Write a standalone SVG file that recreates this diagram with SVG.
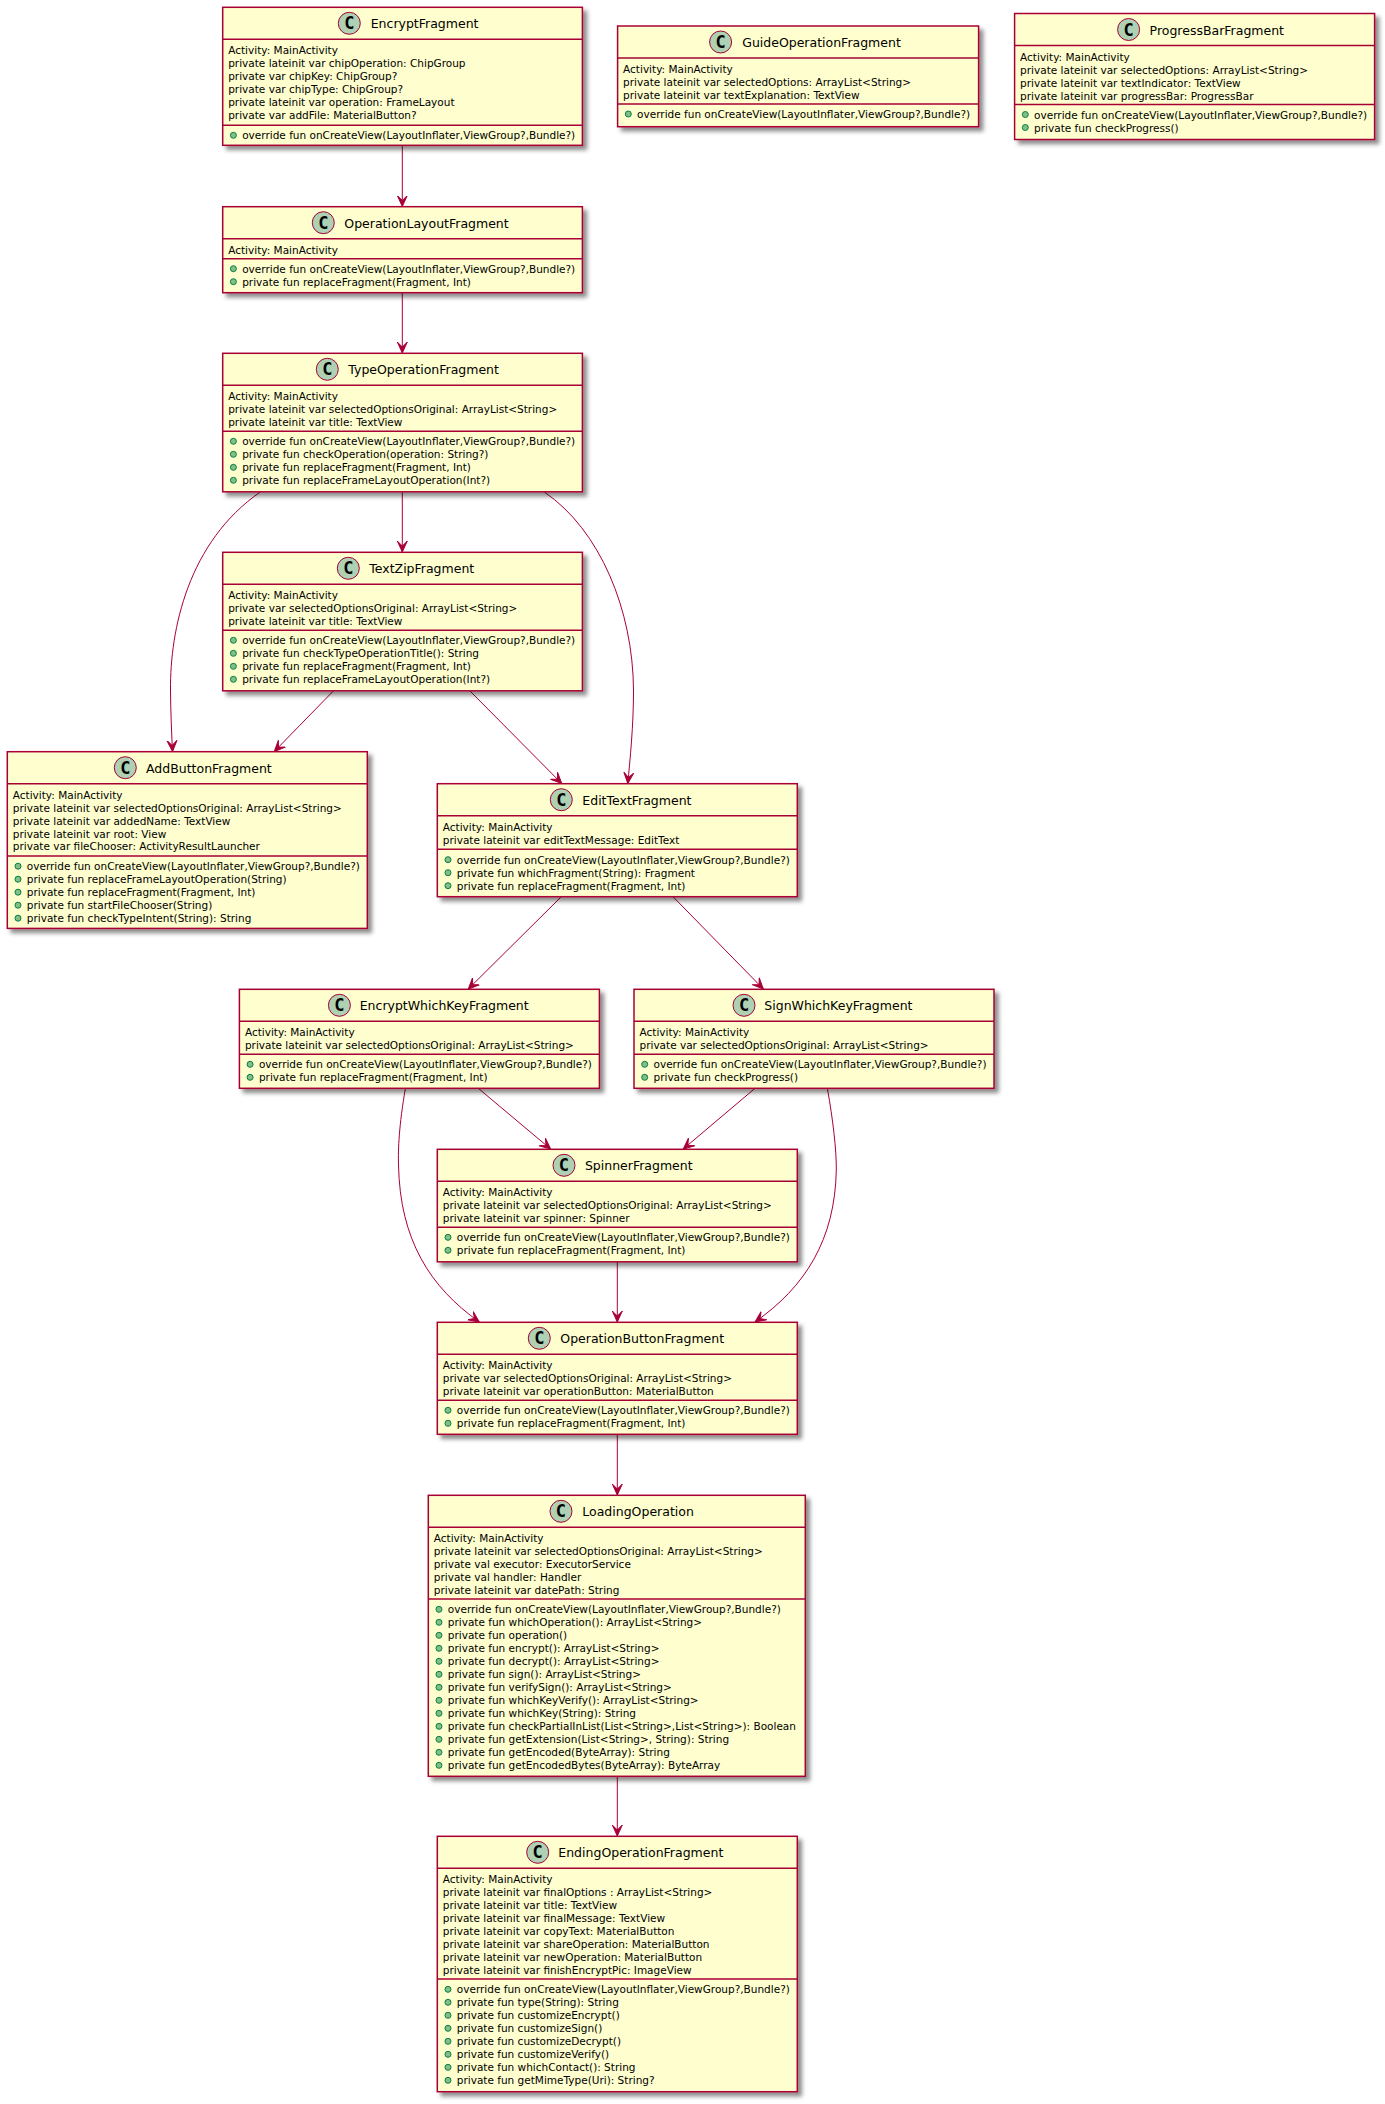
<svg xmlns="http://www.w3.org/2000/svg" width="1385" height="2104" viewBox="0 0 1385 2104">
<style>
text{font-family:"DejaVu Sans",sans-serif;fill:#000}
.m{font-size:10.5px}
.n{font-size:12.5px}
.c{font-family:"DejaVu Sans Mono",monospace;font-size:17px;font-weight:bold;text-anchor:middle}
.b{fill:#FEFECE;stroke:#A80036;stroke-width:1.5;filter:url(#s)}
.d{stroke:#A80036;stroke-width:1.5;fill:none}
.o{fill:#ADD1B2;stroke:#A80036;stroke-width:1}
.p{fill:#84BE84;stroke:#038048;stroke-width:1}
.l{fill:none;stroke:#A80036;stroke-width:1;marker-end:url(#a)}
</style>
<defs>
<filter id="s" x="-5%" y="-5%" width="112%" height="115%"><feDropShadow dx="4" dy="4" stdDeviation="2" flood-color="#000" flood-opacity="0.45"/></filter>
<marker id="a" markerUnits="userSpaceOnUse" markerWidth="12" markerHeight="12" viewBox="0 0 12 12" refX="11" refY="6" orient="auto"><path d="M11,6 L0,1 L5,6 L0,11 Z" fill="#A80036" stroke="#A80036" stroke-width="1"/></marker>
</defs>
<g id="connectors">
<path class="l" d="M402.3,146 L402.3,206.5"/>
<path class="l" d="M402.3,293 L402.3,353"/>
<path class="l" d="M402.3,492 L402.3,552"/>
<path class="l" d="M260.3,492 C188,542 170,630 170.5,690 C170.7,712 171.5,730 172.5,751.5"/>
<path class="l" d="M544.3,492 C600,530 633,610 633.5,690 C633.6,725 630,760 627.8,783.5"/>
<path class="l" d="M333.3,691 L274.3,751.5"/>
<path class="l" d="M470,691 L561.7,783.5"/>
<path class="l" d="M561,897 L468.3,989"/>
<path class="l" d="M673.3,897 L763.3,989"/>
<path class="l" d="M478.5,1088.5 L550.6,1149"/>
<path class="l" d="M754.8,1088.5 L683.3,1149"/>
<path class="l" d="M617.3,1262 L617.3,1322"/>
<path class="l" d="M405.4,1088.5 C399,1125 398,1150 398.5,1165 C400,1240 430,1287 479.3,1322"/>
<path class="l" d="M827.4,1088.5 C833,1120 836.5,1150 836.3,1170 C835,1240 805,1287 755,1322"/>
<path class="l" d="M617.3,1434.5 L617.3,1495"/>
<path class="l" d="M617.3,1776.5 L617.3,1836"/>
</g>
<g id="EncryptFragment" transform="translate(222.7,7.3)">
<rect class="b" width="359.7" height="138"/><path class="d" d="M0,32H359.7M0,118H359.7"/>
<circle class="o" cx="126.6" cy="16" r="11"/><text class="c" x="126.6" y="22">C</text><text class="n" x="148" y="21">EncryptFragment</text>
<text class="m" x="5.5" y="47">Activity: MainActivity</text>
<text class="m" x="5.5" y="60">private lateinit var chipOperation: ChipGroup</text>
<text class="m" x="5.5" y="73">private var chipKey: ChipGroup?</text>
<text class="m" x="5.5" y="86">private var chipType: ChipGroup?</text>
<text class="m" x="5.5" y="98.5">private lateinit var operation: FrameLayout</text>
<text class="m" x="5.5" y="111.5">private var addFile: MaterialButton?</text>
<circle class="p" cx="10.7" cy="128" r="3"/><text class="m" x="19.5" y="132">override fun onCreateView(LayoutInflater,ViewGroup?,Bundle?)</text>
</g>
<g id="GuideOperationFragment" transform="translate(617.6,26)">
<rect class="b" width="361" height="100.7"/><path class="d" d="M0,32H361M0,78H361"/>
<circle class="o" cx="103" cy="16" r="11"/><text class="c" x="103" y="22">C</text><text class="n" x="124.6" y="21">GuideOperationFragment</text>
<text class="m" x="5.5" y="47">Activity: MainActivity</text>
<text class="m" x="5.5" y="60">private lateinit var selectedOptions: ArrayList&lt;String&gt;</text>
<text class="m" x="5.5" y="73">private lateinit var textExplanation: TextView</text>
<circle class="p" cx="10.7" cy="88" r="3"/><text class="m" x="19.5" y="92">override fun onCreateView(LayoutInflater,ViewGroup?,Bundle?)</text>
</g>
<g id="ProgressBarFragment" transform="translate(1014.6,13.5)">
<rect class="b" width="360" height="126"/><path class="d" d="M0,32H360M0,91H360"/>
<circle class="o" cx="114" cy="16" r="11"/><text class="c" x="114" y="22">C</text><text class="n" x="135" y="21">ProgressBarFragment</text>
<text class="m" x="5.5" y="47">Activity: MainActivity</text>
<text class="m" x="5.5" y="60">private lateinit var selectedOptions: ArrayList&lt;String&gt;</text>
<text class="m" x="5.5" y="73">private lateinit var textIndicator: TextView</text>
<text class="m" x="5.5" y="86">private lateinit var progressBar: ProgressBar</text>
<circle class="p" cx="10.7" cy="101" r="3"/><text class="m" x="19.5" y="105">override fun onCreateView(LayoutInflater,ViewGroup?,Bundle?)</text>
<circle class="p" cx="10.7" cy="114" r="3"/><text class="m" x="19.5" y="118">private fun checkProgress()</text>
</g>
<g id="OperationLayoutFragment" transform="translate(222.7,206.7)">
<rect class="b" width="359.7" height="86"/><path class="d" d="M0,32H359.7M0,52H359.7"/>
<circle class="o" cx="100.6" cy="16" r="11"/><text class="c" x="100.6" y="22">C</text><text class="n" x="121.6" y="21">OperationLayoutFragment</text>
<text class="m" x="5.5" y="47">Activity: MainActivity</text>
<circle class="p" cx="10.7" cy="62" r="3"/><text class="m" x="19.5" y="66">override fun onCreateView(LayoutInflater,ViewGroup?,Bundle?)</text>
<circle class="p" cx="10.7" cy="75" r="3"/><text class="m" x="19.5" y="79">private fun replaceFragment(Fragment, Int)</text>
</g>
<g id="TypeOperationFragment" transform="translate(222.7,353.3)">
<rect class="b" width="359.7" height="138.5"/><path class="d" d="M0,32H359.7M0,78H359.7"/>
<circle class="o" cx="104.6" cy="16" r="11"/><text class="c" x="104.6" y="22">C</text><text class="n" x="125.6" y="21">TypeOperationFragment</text>
<text class="m" x="5.5" y="47">Activity: MainActivity</text>
<text class="m" x="5.5" y="60">private lateinit var selectedOptionsOriginal: ArrayList&lt;String&gt;</text>
<text class="m" x="5.5" y="73">private lateinit var title: TextView</text>
<circle class="p" cx="10.7" cy="88" r="3"/><text class="m" x="19.5" y="92">override fun onCreateView(LayoutInflater,ViewGroup?,Bundle?)</text>
<circle class="p" cx="10.7" cy="101" r="3"/><text class="m" x="19.5" y="104.5">private fun checkOperation(operation: String?)</text>
<circle class="p" cx="10.7" cy="114" r="3"/><text class="m" x="19.5" y="117.5">private fun replaceFragment(Fragment, Int)</text>
<circle class="p" cx="10.7" cy="127" r="3"/><text class="m" x="19.5" y="130.5">private fun replaceFrameLayoutOperation(Int?)</text>
</g>
<g id="TextZipFragment" transform="translate(222.7,552.3)">
<rect class="b" width="359.7" height="138.5"/><path class="d" d="M0,32H359.7M0,78H359.7"/>
<circle class="o" cx="125.6" cy="16" r="11"/><text class="c" x="125.6" y="22">C</text><text class="n" x="146.6" y="21">TextZipFragment</text>
<text class="m" x="5.5" y="47">Activity: MainActivity</text>
<text class="m" x="5.5" y="60">private var selectedOptionsOriginal: ArrayList&lt;String&gt;</text>
<text class="m" x="5.5" y="73">private lateinit var title: TextView</text>
<circle class="p" cx="10.7" cy="88" r="3"/><text class="m" x="19.5" y="92">override fun onCreateView(LayoutInflater,ViewGroup?,Bundle?)</text>
<circle class="p" cx="10.7" cy="101" r="3"/><text class="m" x="19.5" y="104.5">private fun checkTypeOperationTitle(): String</text>
<circle class="p" cx="10.7" cy="114" r="3"/><text class="m" x="19.5" y="117.5">private fun replaceFragment(Fragment, Int)</text>
<circle class="p" cx="10.7" cy="127" r="3"/><text class="m" x="19.5" y="130.5">private fun replaceFrameLayoutOperation(Int?)</text>
</g>
<g id="AddButtonFragment" transform="translate(7.3,751.7)">
<rect class="b" width="360" height="176.7"/><path class="d" d="M0,32H360M0,104.3H360"/>
<circle class="o" cx="118" cy="16" r="11"/><text class="c" x="118" y="22">C</text><text class="n" x="138.7" y="21">AddButtonFragment</text>
<text class="m" x="5.5" y="47">Activity: MainActivity</text>
<text class="m" x="5.5" y="60">private lateinit var selectedOptionsOriginal: ArrayList&lt;String&gt;</text>
<text class="m" x="5.5" y="73">private lateinit var addedName: TextView</text>
<text class="m" x="5.5" y="86">private lateinit var root: View</text>
<text class="m" x="5.5" y="98.5">private var fileChooser: ActivityResultLauncher</text>
<circle class="p" cx="10.7" cy="114.5" r="3"/><text class="m" x="19.5" y="118.5">override fun onCreateView(LayoutInflater,ViewGroup?,Bundle?)</text>
<circle class="p" cx="10.7" cy="127.5" r="3"/><text class="m" x="19.5" y="131.5">private fun replaceFrameLayoutOperation(String)</text>
<circle class="p" cx="10.7" cy="140.5" r="3"/><text class="m" x="19.5" y="144.5">private fun replaceFragment(Fragment, Int)</text>
<circle class="p" cx="10.7" cy="153.5" r="3"/><text class="m" x="19.5" y="157.5">private fun startFileChooser(String)</text>
<circle class="p" cx="10.7" cy="166.5" r="3"/><text class="m" x="19.5" y="170.5">private fun checkTypeIntent(String): String</text>
</g>
<g id="EditTextFragment" transform="translate(437.3,783.7)">
<rect class="b" width="360" height="113"/><path class="d" d="M0,32H360M0,65.6H360"/>
<circle class="o" cx="124" cy="16" r="11"/><text class="c" x="124" y="22">C</text><text class="n" x="145" y="21">EditTextFragment</text>
<text class="m" x="5.5" y="47">Activity: MainActivity</text>
<text class="m" x="5.5" y="60">private lateinit var editTextMessage: EditText</text>
<circle class="p" cx="10.7" cy="76" r="3"/><text class="m" x="19.5" y="80">override fun onCreateView(LayoutInflater,ViewGroup?,Bundle?)</text>
<circle class="p" cx="10.7" cy="89" r="3"/><text class="m" x="19.5" y="93">private fun whichFragment(String): Fragment</text>
<circle class="p" cx="10.7" cy="102" r="3"/><text class="m" x="19.5" y="106">private fun replaceFragment(Fragment, Int)</text>
</g>
<g id="EncryptWhichKeyFragment" transform="translate(239.4,989.3)">
<rect class="b" width="360" height="99"/><path class="d" d="M0,32H360M0,65H360"/>
<circle class="o" cx="100" cy="16" r="11"/><text class="c" x="100" y="22">C</text><text class="n" x="120.3" y="21">EncryptWhichKeyFragment</text>
<text class="m" x="5.5" y="47">Activity: MainActivity</text>
<text class="m" x="5.5" y="60">private lateinit var selectedOptionsOriginal: ArrayList&lt;String&gt;</text>
<circle class="p" cx="10.7" cy="75" r="3"/><text class="m" x="19.5" y="79">override fun onCreateView(LayoutInflater,ViewGroup?,Bundle?)</text>
<circle class="p" cx="10.7" cy="88" r="3"/><text class="m" x="19.5" y="92">private fun replaceFragment(Fragment, Int)</text>
</g>
<g id="SignWhichKeyFragment" transform="translate(634,989.3)">
<rect class="b" width="360" height="99"/><path class="d" d="M0,32H360M0,65H360"/>
<circle class="o" cx="110" cy="16" r="11"/><text class="c" x="110" y="22">C</text><text class="n" x="130.3" y="21">SignWhichKeyFragment</text>
<text class="m" x="5.5" y="47">Activity: MainActivity</text>
<text class="m" x="5.5" y="60">private var selectedOptionsOriginal: ArrayList&lt;String&gt;</text>
<circle class="p" cx="10.7" cy="75" r="3"/><text class="m" x="19.5" y="79">override fun onCreateView(LayoutInflater,ViewGroup?,Bundle?)</text>
<circle class="p" cx="10.7" cy="88" r="3"/><text class="m" x="19.5" y="92">private fun checkProgress()</text>
</g>
<g id="SpinnerFragment" transform="translate(437.3,1149.3)">
<rect class="b" width="360" height="112.5"/><path class="d" d="M0,32H360M0,78H360"/>
<circle class="o" cx="126.7" cy="16" r="11"/><text class="c" x="126.7" y="22">C</text><text class="n" x="147.6" y="21">SpinnerFragment</text>
<text class="m" x="5.5" y="47">Activity: MainActivity</text>
<text class="m" x="5.5" y="60">private lateinit var selectedOptionsOriginal: ArrayList&lt;String&gt;</text>
<text class="m" x="5.5" y="73">private lateinit var spinner: Spinner</text>
<circle class="p" cx="10.7" cy="88" r="3"/><text class="m" x="19.5" y="92">override fun onCreateView(LayoutInflater,ViewGroup?,Bundle?)</text>
<circle class="p" cx="10.7" cy="101" r="3"/><text class="m" x="19.5" y="104.5">private fun replaceFragment(Fragment, Int)</text>
</g>
<g id="OperationButtonFragment" transform="translate(437.3,1322.3)">
<rect class="b" width="360" height="112"/><path class="d" d="M0,32H360M0,78H360"/>
<circle class="o" cx="102" cy="16" r="11"/><text class="c" x="102" y="22">C</text><text class="n" x="123" y="21">OperationButtonFragment</text>
<text class="m" x="5.5" y="47">Activity: MainActivity</text>
<text class="m" x="5.5" y="60">private var selectedOptionsOriginal: ArrayList&lt;String&gt;</text>
<text class="m" x="5.5" y="73">private lateinit var operationButton: MaterialButton</text>
<circle class="p" cx="10.7" cy="88" r="3"/><text class="m" x="19.5" y="92">override fun onCreateView(LayoutInflater,ViewGroup?,Bundle?)</text>
<circle class="p" cx="10.7" cy="101" r="3"/><text class="m" x="19.5" y="104.5">private fun replaceFragment(Fragment, Int)</text>
</g>
<g id="LoadingOperation" transform="translate(428.3,1495.3)">
<rect class="b" width="377" height="281"/><path class="d" d="M0,32H377M0,103.7H377"/>
<circle class="o" cx="132.7" cy="16" r="11"/><text class="c" x="132.7" y="22">C</text><text class="n" x="154" y="21">LoadingOperation</text>
<text class="m" x="5.5" y="47">Activity: MainActivity</text>
<text class="m" x="5.5" y="60">private lateinit var selectedOptionsOriginal: ArrayList&lt;String&gt;</text>
<text class="m" x="5.5" y="73">private val executor: ExecutorService</text>
<text class="m" x="5.5" y="86">private val handler: Handler</text>
<text class="m" x="5.5" y="98.5">private lateinit var datePath: String</text>
<circle class="p" cx="10.7" cy="114" r="3"/><text class="m" x="19.5" y="118">override fun onCreateView(LayoutInflater,ViewGroup?,Bundle?)</text>
<circle class="p" cx="10.7" cy="127" r="3"/><text class="m" x="19.5" y="131">private fun whichOperation(): ArrayList&lt;String&gt;</text>
<circle class="p" cx="10.7" cy="140" r="3"/><text class="m" x="19.5" y="144">private fun operation()</text>
<circle class="p" cx="10.7" cy="153" r="3"/><text class="m" x="19.5" y="157">private fun encrypt(): ArrayList&lt;String&gt;</text>
<circle class="p" cx="10.7" cy="166" r="3"/><text class="m" x="19.5" y="170">private fun decrypt(): ArrayList&lt;String&gt;</text>
<circle class="p" cx="10.7" cy="179" r="3"/><text class="m" x="19.5" y="183">private fun sign(): ArrayList&lt;String&gt;</text>
<circle class="p" cx="10.7" cy="192" r="3"/><text class="m" x="19.5" y="196">private fun verifySign(): ArrayList&lt;String&gt;</text>
<circle class="p" cx="10.7" cy="205" r="3"/><text class="m" x="19.5" y="209">private fun whichKeyVerify(): ArrayList&lt;String&gt;</text>
<circle class="p" cx="10.7" cy="218" r="3"/><text class="m" x="19.5" y="222">private fun whichKey(String): String</text>
<circle class="p" cx="10.7" cy="231" r="3"/><text class="m" x="19.5" y="235">private fun checkPartialInList(List&lt;String&gt;,List&lt;String&gt;): Boolean</text>
<circle class="p" cx="10.7" cy="244" r="3"/><text class="m" x="19.5" y="248">private fun getExtension(List&lt;String&gt;, String): String</text>
<circle class="p" cx="10.7" cy="257" r="3"/><text class="m" x="19.5" y="261">private fun getEncoded(ByteArray): String</text>
<circle class="p" cx="10.7" cy="270" r="3"/><text class="m" x="19.5" y="274">private fun getEncodedBytes(ByteArray): ByteArray</text>
</g>
<g id="EndingOperationFragment" transform="translate(437.3,1836.3)">
<rect class="b" width="360" height="255.4"/><path class="d" d="M0,32H360M0,142.7H360"/>
<circle class="o" cx="100.4" cy="16" r="11"/><text class="c" x="100.4" y="22">C</text><text class="n" x="121" y="21">EndingOperationFragment</text>
<text class="m" x="5.5" y="47">Activity: MainActivity</text>
<text class="m" x="5.5" y="60">private lateinit var finalOptions : ArrayList&lt;String&gt;</text>
<text class="m" x="5.5" y="73">private lateinit var title: TextView</text>
<text class="m" x="5.5" y="86">private lateinit var finalMessage: TextView</text>
<text class="m" x="5.5" y="98.5">private lateinit var copyText: MaterialButton</text>
<text class="m" x="5.5" y="111.5">private lateinit var shareOperation: MaterialButton</text>
<text class="m" x="5.5" y="124.5">private lateinit var newOperation: MaterialButton</text>
<text class="m" x="5.5" y="137.5">private lateinit var finishEncryptPic: ImageView</text>
<circle class="p" cx="10.7" cy="153" r="3"/><text class="m" x="19.5" y="157">override fun onCreateView(LayoutInflater,ViewGroup?,Bundle?)</text>
<circle class="p" cx="10.7" cy="166" r="3"/><text class="m" x="19.5" y="170">private fun type(String): String</text>
<circle class="p" cx="10.7" cy="179" r="3"/><text class="m" x="19.5" y="183">private fun customizeEncrypt()</text>
<circle class="p" cx="10.7" cy="192" r="3"/><text class="m" x="19.5" y="196">private fun customizeSign()</text>
<circle class="p" cx="10.7" cy="205" r="3"/><text class="m" x="19.5" y="209">private fun customizeDecrypt()</text>
<circle class="p" cx="10.7" cy="218" r="3"/><text class="m" x="19.5" y="222">private fun customizeVerify()</text>
<circle class="p" cx="10.7" cy="231" r="3"/><text class="m" x="19.5" y="235">private fun whichContact(): String</text>
<circle class="p" cx="10.7" cy="244" r="3"/><text class="m" x="19.5" y="248">private fun getMimeType(Uri): String?</text>
</g>
</svg>
